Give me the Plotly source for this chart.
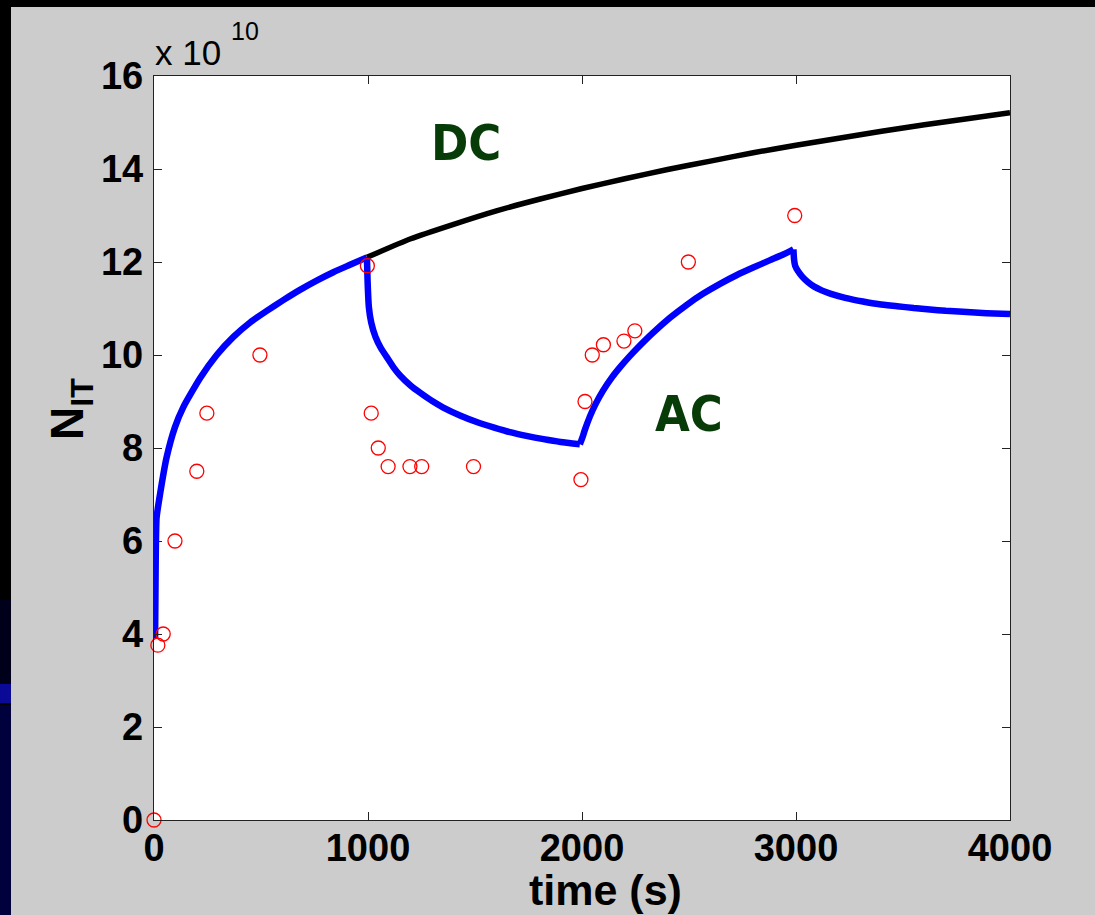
import plotly.graph_objects as go

# ---- data (N_IT in units of 1e10, time in s) ----
dc_t = [995, 1200, 1400, 1600, 1800, 2000, 2200, 2400, 2600, 2800, 3000, 3200, 3400, 3600, 3800, 4000]
dc_n = [12.1, 12.5, 12.81, 13.1, 13.35, 13.58, 13.79, 13.99, 14.17, 14.35, 14.51, 14.66, 14.81, 14.95, 15.08, 15.21]

ac1_t = [5, 8, 12, 28, 59, 98, 137, 215, 293, 371, 449, 527, 604, 682, 760, 838, 916, 995]
ac1_n = [3.9, 5.6, 6.5, 7.0, 7.8, 8.45, 8.88, 9.5, 10.0, 10.39, 10.7, 10.95, 11.18, 11.4, 11.6, 11.78, 11.94, 12.1]

ac2_t = [995, 998, 1004, 1015, 1035, 1060, 1087, 1120, 1150, 1200, 1243, 1300, 1352, 1430, 1508, 1590, 1664, 1740, 1820, 1900, 1990]
ac2_n = [12.1, 11.6, 11.03, 10.7, 10.39, 10.15, 9.96, 9.73, 9.56, 9.34, 9.19, 9.01, 8.87, 8.7, 8.56, 8.44, 8.34, 8.26, 8.19, 8.13, 8.08]

ac3_t = [1990, 2000, 2015, 2037, 2065, 2099, 2140, 2178, 2220, 2257, 2330, 2411, 2490, 2567, 2645, 2724, 2800, 2879, 2940, 2988]
ac3_n = [8.08, 8.2, 8.41, 8.68, 8.96, 9.24, 9.52, 9.74, 9.96, 10.14, 10.47, 10.8, 11.08, 11.32, 11.53, 11.72, 11.88, 12.04, 12.16, 12.27]

ac4_t = [2988, 2991, 2996, 3010, 3030, 3055, 3085, 3120, 3160, 3230, 3313, 3390, 3472, 3550, 3626, 3700, 3780, 3890, 4000]
ac4_n = [12.27, 12.05, 11.92, 11.8, 11.68, 11.57, 11.47, 11.39, 11.32, 11.23, 11.15, 11.09, 11.05, 11.01, 10.98, 10.95, 10.93, 10.9, 10.88]

exp_t = [0, 18, 43, 98, 200, 247, 495, 997, 1015, 1048, 1094, 1196, 1251, 1493, 1995, 2014, 2048, 2100, 2196, 2247, 2497, 2994]
exp_n = [0, 3.76, 4.0, 6.0, 7.5, 8.75, 10.0, 11.92, 8.75, 8.0, 7.6, 7.6, 7.6, 7.6, 7.32, 9.0, 10.0, 10.22, 10.3, 10.52, 12.0, 13.0]

x_ticks = [0, 1000, 2000, 3000, 4000]
y_ticks = [0, 2, 4, 6, 8, 10, 12, 14, 16]

W, H = 1095, 915
L, R, T, B = 154, 1010, 76, 820


def px(x):
    return (x - L) / (R - L)


def py(y):
    return (B - y) / (B - T)


fig = go.Figure()

fig.add_trace(go.Scatter(x=dc_t, y=dc_n, mode="lines", line=dict(color="black", width=5.5, shape="spline", smoothing=0.6),
                         showlegend=False, hoverinfo="skip"))
for st, sn in [(ac1_t, ac1_n), (ac2_t, ac2_n), (ac3_t, ac3_n), (ac4_t, ac4_n)]:
    fig.add_trace(go.Scatter(x=st, y=sn, mode="lines", line=dict(color="#0000ff", width=6.5, shape="spline", smoothing=0.5),
                             showlegend=False, hoverinfo="skip"))

fig.add_trace(go.Scatter(x=exp_t, y=exp_n, mode="markers", cliponaxis=False,
                         marker=dict(symbol="circle-open", size=14, color="#ff0000", line=dict(width=1.3, color="#ff0000")),
                         showlegend=False))

tickfont = dict(family="Liberation Sans, Arial, sans-serif", size=38, color="black", weight="bold")

fig.update_xaxes(range=[0, 4000], tickvals=x_ticks, ticktext=[str(v) for v in x_ticks],
                 ticks="inside", ticklen=8, tickwidth=1.3, tickcolor="#222",
                 showline=True, linecolor="#222", linewidth=1.3, mirror="ticks",
                 showgrid=False, zeroline=False, tickfont=tickfont, ticklabelstandoff=-6)
fig.update_yaxes(range=[0, 16], tickvals=y_ticks, ticktext=[str(v) for v in y_ticks],
                 ticks="inside", ticklen=8, tickwidth=1.3, tickcolor="#222",
                 showline=True, linecolor="#222", linewidth=1.3, mirror="ticks",
                 showgrid=False, zeroline=False, tickfont=tickfont, ticklabelstandoff=2)

green = "#073b07"
lblfont = dict(family="DejaVu Sans Condensed, DejaVu Sans, Verdana, sans-serif", size=50, color=green, weight="bold")
annotations = [
    dict(x=px(466), y=py(143), xref="paper", yref="paper", text="DC", showarrow=False, font=lblfont,
         xanchor="center", yanchor="middle"),
    dict(x=px(689), y=py(414), xref="paper", yref="paper", text="AC", showarrow=False, font=lblfont,
         xanchor="center", yanchor="middle"),
    dict(x=px(605), y=py(890), xref="paper", yref="paper", text="time (s)", showarrow=False, borderpad=0,
         font=dict(family="Liberation Sans, Arial, sans-serif", size=43, color="black", weight="bold"),
         xanchor="center", yanchor="middle"),
    dict(x=px(70), y=py(409), xref="paper", yref="paper", text="N<sub>IT</sub>", showarrow=False, textangle=-90,
         font=dict(family="Liberation Sans, Arial, sans-serif", size=46, color="black", weight="bold"),
         xanchor="center", yanchor="middle"),
    dict(x=px(153), y=py(53), xref="paper", yref="paper", text="x 10", showarrow=False,
         font=dict(family="Liberation Sans, Arial, sans-serif", size=35, color="black"),
         xanchor="left", yanchor="middle"),
    dict(x=px(229), y=py(31), xref="paper", yref="paper", text="10", showarrow=False,
         font=dict(family="Liberation Sans, Arial, sans-serif", size=25, color="black"),
         xanchor="left", yanchor="middle"),
]

shapes = [
    dict(type="rect", xref="paper", yref="paper", x0=px(-5), x1=px(W + 5), y0=py(7), y1=py(-5),
         fillcolor="black", line=dict(width=0), layer="below"),
    dict(type="rect", xref="paper", yref="paper", x0=px(-5), x1=px(11), y0=py(H + 5), y1=py(-5),
         fillcolor="black", line=dict(width=0), layer="below"),
    dict(type="rect", xref="paper", yref="paper", x0=px(-5), x1=px(11), y0=py(H + 5), y1=py(705),
         fillcolor="#00003c", line=dict(width=0), layer="below"),
    dict(type="rect", xref="paper", yref="paper", x0=px(-5), x1=px(11), y0=py(703), y1=py(684),
         fillcolor="#0a0a96", line=dict(width=0), layer="below"),
    dict(type="rect", xref="paper", yref="paper", x0=px(-5), x1=px(11), y0=py(684), y1=py(600),
         fillcolor="#00001a", line=dict(width=0), layer="below"),
]

fig.update_layout(width=W, height=H, margin=dict(l=L, r=W - R, t=T, b=H - B, pad=0),
                  paper_bgcolor="#cccccc", plot_bgcolor="white",
                  annotations=annotations, shapes=shapes, showlegend=False)

fig.write_html("out.html")
